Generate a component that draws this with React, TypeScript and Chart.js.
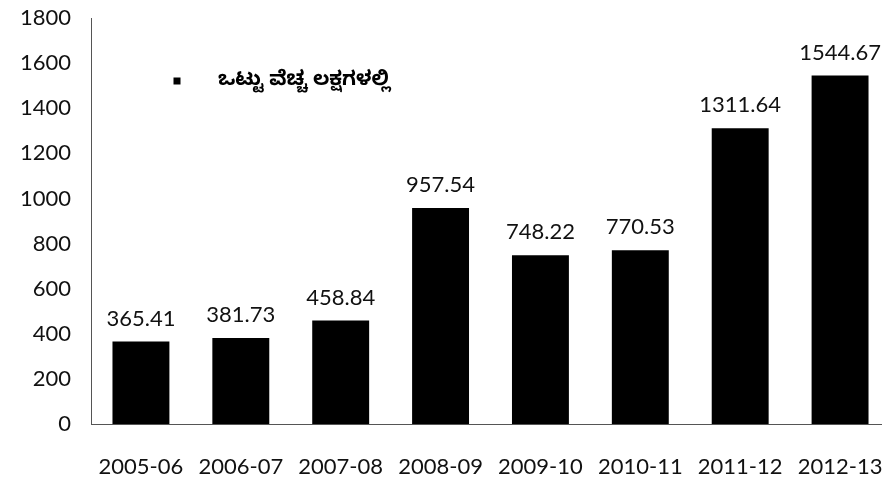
import React, { useEffect, useRef } from "react";
import { Chart, registerables } from "chart.js";

Chart.register(...registerables);

const categories = ["2005-06", "2006-07", "2007-08", "2008-09", "2009-10", "2010-11", "2011-12", "2012-13"];
const values = [365.41, 381.73, 458.84, 957.54, 748.22, 770.53, 1311.64, 1544.67];
const valueLabels = ["365.41", "381.73", "458.84", "957.54", "748.22", "770.53", "1311.64", "1544.67"];
const seriesName = "ಒಟ್ಟು ವೆಚ್ಚ ಲಕ್ಷಗಳಲ್ಲಿ";
const yTicks = [0, 200, 400, 600, 800, 1000, 1200, 1400, 1600, 1800];

const FONT = "Lato, 'Open Sans', sans-serif";

const barLabelPlugin = {
  id: "barLabels",
  afterDatasetsDraw(chart: any) {
    const ctx = chart.ctx;
    const meta = chart.getDatasetMeta(0);
    ctx.save();
    ctx.fillStyle = "#111";
    ctx.font = `22px ${FONT}`;
    ctx.textAlign = "center";
    ctx.textBaseline = "alphabetic";
    meta.data.forEach((bar: any, i: number) => {
      ctx.fillText(valueLabels[i], bar.x, bar.y - 16);
    });
    ctx.restore();
  },
};

const inlineLegendPlugin = {
  id: "inlineLegend",
  afterDraw(chart: any) {
    const ctx = chart.ctx;
    const area = chart.chartArea;
    const mx = area.left + 86;
    const my = area.top + 63;
    ctx.save();
    ctx.fillStyle = "#000";
    ctx.fillRect(mx - 3.5, my - 3.5, 7, 7);
    ctx.font = `bold 20px 'Noto Sans Kannada', ${FONT}`;
    ctx.textAlign = "left";
    ctx.textBaseline = "middle";
    ctx.fillText(chart.data.datasets[0].label, area.left + 127, my + 2);
    ctx.restore();
  },
};

export default function App() {
  const ref = useRef<HTMLCanvasElement | null>(null);
  useEffect(() => {
    if (!ref.current) return;
    const chart = new Chart(ref.current, {
      type: "bar",
      data: {
        labels: categories,
        datasets: [
          {
            label: seriesName,
            data: values,
            backgroundColor: "#000",
            borderWidth: 0,
            barPercentage: 0.57,
            categoryPercentage: 1,
          },
        ],
      },
      options: {
        responsive: false,
        animation: false,
        layout: { padding: { top: 18, right: 0, left: 0, bottom: 0 } },
        plugins: { legend: { display: false }, tooltip: { enabled: false } },
        scales: {
          x: {
            offset: true,
            grid: { display: false, drawTicks: false },
            border: { display: true, color: "#555", width: 1 },
            ticks: { color: "#111", font: { family: FONT, size: 22 }, padding: 30, maxRotation: 0, autoSkip: false },
            afterFit: (s: any) => {
              s.height = 61;
              s.paddingLeft = 0;
              s.paddingRight = 0;
            },
          },
          y: {
            min: 0,
            max: 1800,
            afterBuildTicks: (s: any) => {
              s.ticks = yTicks.map((v) => ({ value: v }));
            },
            grid: { display: false, drawTicks: false },
            border: { display: true, color: "#555", width: 1 },
            ticks: {
              color: "#111",
              font: { family: FONT, size: 22 },
              padding: 20,
              callback: (v: any) => String(v),
            },
            afterFit: (s: any) => {
              s.width = 91;
              s.paddingTop = 0;
              s.paddingBottom = 0;
            },
          },
        },
      },
      plugins: [barLabelPlugin, inlineLegendPlugin],
    });
    return () => chart.destroy();
  }, []);
  return (
    <div style={{ position: "fixed", left: 0, top: 0, width: 882, height: 485, overflow: "hidden", background: "#fff" }}>
      <canvas ref={ref} width={890} height={485} style={{ width: 890, height: 485, display: "block" }} />
    </div>
  );
}
